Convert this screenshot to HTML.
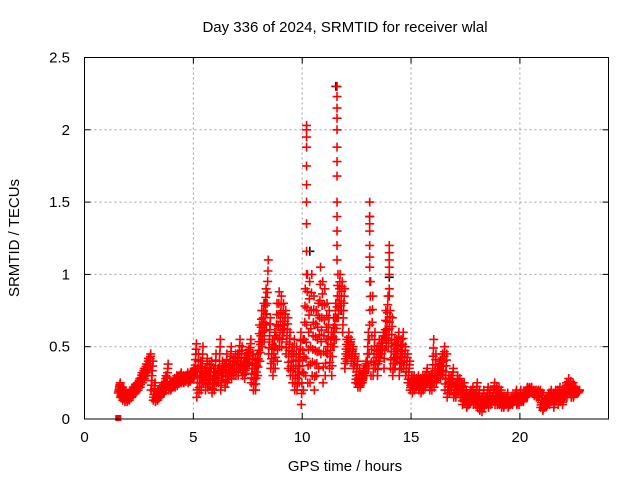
<!DOCTYPE html>
<html><head><meta charset="utf-8"><style>
body{margin:0;background:#fff}
text{font-family:"Liberation Sans",sans-serif;fill:#000}
</style></head><body>
<svg id="chart" width="640" height="480" xmlns="http://www.w3.org/2000/svg">
<text x="345" y="32" font-size="15" text-anchor="middle">Day 336 of 2024, SRMTID for receiver wlal</text>
<text transform="translate(19,238) rotate(-90)" font-size="15" text-anchor="middle">SRMTID / TECUs</text>
<text x="345" y="471" font-size="15" text-anchor="middle">GPS time / hours</text>
<g id="grid"></g><g id="ticks"></g><g id="black"></g><g id="red"></g>
<rect x="84.5" y="57.5" width="524" height="361.5" fill="none" stroke="#000" stroke-width="1"/>
</svg>
<script>
const xTicks=[0,5,10,15,20];
const yTicks=[0,0.5,1,1.5,2,2.5];
const yTickLabels=["0","0.5","1","1.5","2","2.5"];
const tStart=1.6, tStep=0.1;
const lo=[.18,.15,.13,.12,
.12,.13,.15,.17,.18,.2,.22,.25,.28,.3,
.35,.2,.13,.12,.13,.15,.17,.18,.2,.2,
.2,.22,.22,.23,.25,.25,.25,.26,.25,.26,
.28,.3,.15,.18,.2,.25,.2,.22,.25,.18,
.2,.25,.25,.2,.3,.22,.25,.3,.28,.3,
.3,.3,.35,.3,.28,.35,.38,.25,.2,.2,
.3,.4,.5,.55,.65,.45,.35,.3,.35,.4,
.5,.5,.6,.45,.35,.3,.25,.2,.2,.25,
.1,.2,.3,.25,.25,.3,.2,.3,.35,.45,
.25,.3,.45,.35,.3,.5,.55,.7,.75,.6,
.35,.4,.45,.4,.35,.25,.22,.22,.25,.3,
.3,.35,.3,.3,.35,.3,.4,.45,.35,.5,
.5,.35,.3,.35,.4,.3,.35,.35,.3,.25,
.2,.18,.2,.22,.2,.18,.2,.22,.25,.2,
.2,.22,.25,.3,.28,.3,.2,.15,.18,.2,
.15,.15,.18,.15,.1,.12,.08,.1,.12,.1,
.1,.08,.06,.05,.08,.1,.08,.1,.12,.1,
.1,.1,.08,.08,.1,.08,.1,.1,.12,.1,
.1,.12,.12,.15,.18,.18,.18,.16,.15,.15,
.08,.06,.08,.1,.1,.12,.08,.12,.1,.12,
.1,.15,.15,.18,.15,.15,.18,.18];
const hi=[.25,.22,.2,.18,
.18,.2,.22,.24,.25,.28,.32,.35,.38,.42,
.45,.4,.25,.18,.2,.22,.25,.3,.38,.25,
.25,.28,.3,.3,.32,.3,.3,.32,.3,.33,
.35,.52,.45,.4,.5,.35,.42,.38,.4,.35,
.45,.35,.55,.4,.38,.45,.38,.5,.42,.45,
.45,.55,.5,.42,.45,.48,.55,.45,.42,.45,
.65,.75,.8,.9,1.1,.7,.55,.6,.8,.88,
.85,.8,.75,.7,.6,.5,.55,.5,.45,.6,
.55,.9,1.0,.95,1.0,.85,.75,.8,1.05,.95,
.9,.8,.75,.6,.7,.8,1.0,1.0,.95,.9,
.55,.6,.55,.5,.45,.4,.35,.3,.35,.4,
.6,.95,.85,.6,.5,.55,.55,.6,.75,.85,
.75,.7,.55,.55,.6,.55,.6,.5,.45,.4,
.3,.3,.28,.3,.28,.3,.3,.35,.3,.3,
.55,.45,.35,.4,.45,.5,.45,.3,.3,.35,
.25,.3,.28,.25,.25,.2,.15,.2,.22,.18,
.25,.2,.15,.2,.15,.22,.2,.15,.25,.22,
.22,.2,.15,.15,.18,.12,.15,.15,.2,.15,
.2,.15,.18,.22,.22,.22,.2,.2,.2,.2,
.18,.12,.14,.18,.2,.18,.2,.2,.22,.2,
.2,.25,.28,.26,.25,.22,.2,.2];
const spikeTimes=[10.2,10.2,10.2,10.2,10.2,10.2,10.2,10.2,10.2,10.2,11.6,11.6,11.6,11.6,11.6,11.6,11.6,11.6,11.6,11.6,11.6,11.6,11.6,13.1,13.1,13.1,13.1,13.1,13.1,13.1,13.1,14.0,14.0,14.0,14.0,14.0,14.0,14.0];
const spikeValues=[1.0,1.16,1.35,1.5,1.62,1.75,1.88,1.95,2.0,2.03,1.1,1.2,1.3,1.4,1.5,1.68,1.78,1.88,2.0,2.08,2.15,2.23,2.3,0.95,1.05,1.12,1.2,1.3,1.35,1.4,1.5,0.85,0.9,1.0,1.05,1.1,1.15,1.2];
const zeroTimes=[1.55];
const blackTimes=[10.35,11.55,13.1,14.0,11.8,8.3];
const blackValues=[1.16,2.3,1.4,0.98,0.75,0.8];

const NS="http://www.w3.org/2000/svg";
const X0=84.5,X1=608.5,Y0=419,Y1=57.5,XMAX=24.07,YMAX=2.5;
const xs=v=>X0+(X1-X0)*v/XMAX;
const ys=v=>Y0-(Y0-Y1)*v/YMAX;
function mk(tag,attrs,parent){const e=document.createElementNS(NS,tag);for(const k in attrs)e.setAttribute(k,attrs[k]);parent.appendChild(e);return e;}
const grid=document.getElementById('grid'),ticks=document.getElementById('ticks');
xTicks.forEach(t=>{
  const x=xs(t);
  if(t>0){const g=mk('line',{x1:x,x2:x,y1:Y1,y2:Y0,stroke:'#a0a0a0','stroke-dasharray':'2,3'},grid);
  
  }
  mk('line',{x1:x,x2:x,y1:Y0,y2:Y0-6,stroke:'#000'},ticks);
  mk('line',{x1:x,x2:x,y1:Y1,y2:Y1+6,stroke:'#000'},ticks);
  const l=mk('text',{x:x,y:442,'font-size':15,'text-anchor':'middle'},ticks);
  l.textContent=t;
  
  
});
yTicks.forEach((v,i)=>{
  const y=ys(v);
  if(v>0&&v<YMAX){const g=mk('line',{x1:X0,x2:X1,y1:y,y2:y,stroke:'#a0a0a0','stroke-dasharray':'2,3'},grid);
  
  }
  mk('line',{x1:X0,x2:X0+6,y1:y,y2:y,stroke:'#000'},ticks);
  mk('line',{x1:X1,x2:X1-6,y1:y,y2:y,stroke:'#000'},ticks);
  const l=mk('text',{x:70,y:y+5,'font-size':15,'text-anchor':'end'},ticks);
  l.textContent=yTickLabels[i];
  
  
});
function cross(t,v,col,parent,name){
  const x=xs(t),y=ys(v);
  const p=mk('path',{d:`M${x-4.5},${y}H${x+4.5}M${x},${y-4.5}V${y+4.5}`,stroke:col,'stroke-width':1.6,fill:'none'},parent);
  
  
}
const red=document.getElementById('red'),black=document.getElementById('black');
blackTimes.forEach((t,i)=>cross(t,blackValues[i],'#000',black,'black-point'));
lo.forEach((l,i)=>{
  const t=tStart+tStep*i,h=hi[i];
  [0,0.17,0.33,0.5,0.67,0.83,1].forEach((f,j)=>{
    cross(t+(j-3)*0.014,l+(h-l)*f,'#f00',red,'red-point');
  });
});
spikeTimes.forEach((t,i)=>cross(t,spikeValues[i],'#f00',red,'red-spike-point'));
zeroTimes.forEach(t=>{
  const s=mk('rect',{x:xs(t)-3,y:ys(0)-4,width:6,height:6,fill:'#f00'},red);
  
  
});
</script>
</body></html>
